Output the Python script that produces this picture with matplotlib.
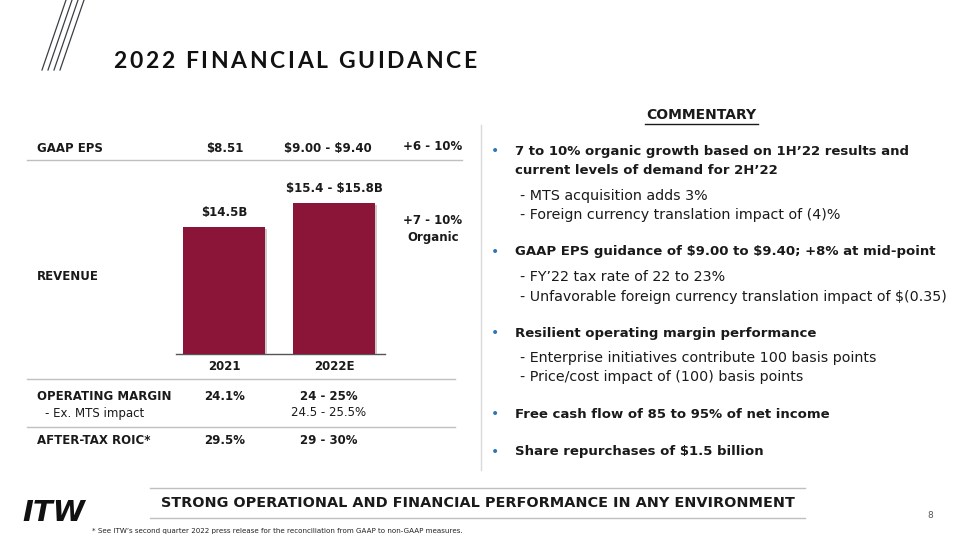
import matplotlib
matplotlib.use("Agg")
import matplotlib.pyplot as plt
from matplotlib.lines import Line2D
import matplotlib.patheffects as pe

plt.rcParams["text.parse_math"] = False

# ---------------- data ----------------
years = ["2021", "2022E"]
revenue = [14.5, 15.6]          # $B (2022E at midpoint of guidance)
revenue_labels = ["$14.5B", "$15.4 - $15.8B"]
revenue_growth = ["+7 - 10%", "Organic"]

row_names = ["GAAP EPS", "OPERATING MARGIN", "- Ex. MTS impact", "AFTER-TAX ROIC*"]
col_2021 = ["$8.51", "24.1%", "", "29.5%"]
col_2022 = ["$9.00 - $9.40", "24 - 25%", "24.5 - 25.5%", "29 - 30%"]
eps_growth = "+6 - 10%"

title = "2022 FINANCIAL GUIDANCE"
commentary = [
    ("b", ["7 to 10% organic growth based on 1H\u201922 results and",
           "current levels of demand for 2H\u201922"]),
    ("s", ["- MTS acquisition adds 3%", "- Foreign currency translation impact of (4)%"]),
    ("b", ["GAAP EPS guidance of $9.00 to $9.40; +8% at mid-point"]),
    ("s", ["- FY\u201922 tax rate of 22 to 23%",
           "- Unfavorable foreign currency translation impact of $(0.35)"]),
    ("b", ["Resilient operating margin performance"]),
    ("s", ["- Enterprise initiatives contribute 100 basis points",
           "- Price/cost impact of (100) basis points"]),
    ("b", ["Free cash flow of 85 to 95% of net income"]),
    ("b", ["Share repurchases of $1.5 billion"]),
]
footer = "STRONG OPERATIONAL AND FINANCIAL PERFORMANCE IN ANY ENVIRONMENT"
footnote = "* See ITW\u2019s second quarter 2022 press release for the reconciliation from GAAP to non-GAAP measures."

# ---------------- style ----------------
W, H = 960, 540
MAROON = "#8A1538"
GREY_LINE = "#BFBFBF"
TXT = "#1a1a1a"
BLUE = "#2E75B6"
FONT = "DejaVu Sans"

fig = plt.figure(figsize=(9.6, 5.4), dpi=100)
fig.patch.set_facecolor("white")


def T(x, y, s, size=9, weight="normal", ha="left", va="center", color=TXT, **kw):
    return fig.text(x / W, 1 - y / H, s, fontsize=size, fontweight=weight, ha=ha, va=va,
                    color=color, family=kw.pop("family", FONT), **kw)


def HL(x0, x1, y, color=GREY_LINE, lw=1.0):
    fig.add_artist(Line2D([x0 / W, x1 / W], [1 - y / H, 1 - y / H], color=color, lw=lw,
                          transform=fig.transFigure))


def VL(x, y0, y1, color="#D9D9D9", lw=1.0):
    fig.add_artist(Line2D([x / W, x / W], [1 - y0 / H, 1 - y1 / H], color=color, lw=lw,
                          transform=fig.transFigure))


# logo stripes top-left
for i in range(4):
    dx = i * 6
    fig.add_artist(Line2D([(42 + dx) / W, (66 + dx) / W], [1 - 70 / H, 1 - 0 / H],
                          color="#3a3f44", lw=0.9, transform=fig.transFigure))

# title with letter spacing (drawn character by character)
renderer = fig.canvas.get_renderer()
x = 113
for ch in title:
    t = T(x, 61, ch, size=16.5, weight="bold", family="Lato", color="#111111")
    w = t.get_window_extent(renderer).width
    x += w + 2.65

# ---------------- left table ----------------
T(37, 148, row_names[0], size=8.5, weight="bold")
T(225, 148, col_2021[0], size=8.5, weight="bold", ha="center")
T(328, 148, col_2022[0], size=8.5, weight="bold", ha="center")
T(433, 147, eps_growth, size=8.5, weight="bold", ha="center")
HL(27, 462, 160)

T(37, 277, "REVENUE", size=8.5, weight="bold")
T(433, 220, revenue_growth[0], size=8.5, weight="bold", ha="center")
T(433, 237, revenue_growth[1], size=8.5, weight="bold", ha="center")

HL(27, 455, 379)
T(37, 397, row_names[1], size=8.5, weight="bold")
T(225, 397, col_2021[1], size=8.5, weight="bold", ha="center")
T(329, 397, col_2022[1], size=8.5, weight="bold", ha="center")
T(45, 413, row_names[2], size=8.5)
T(329, 413, col_2022[2], size=8.5, ha="center")
HL(27, 455, 427)
T(37, 441, row_names[3], size=8.5, weight="bold")
T(225, 441, col_2021[3], size=8.5, weight="bold", ha="center")
T(329, 441, col_2022[3], size=8.5, weight="bold", ha="center")

# ---------------- revenue bar chart ----------------
ax_l, ax_r, ax_b, ax_t = 176, 385, 354, 190
ax = fig.add_axes([ax_l / W, 1 - ax_b / H, (ax_r - ax_l) / W, (ax_b - ax_t) / H])
xs = list(range(len(years)))
bars = ax.bar(xs, revenue, width=0.745, color=MAROON, zorder=3)
for b in bars:
    b.set_path_effects([pe.SimplePatchShadow(offset=(1.5, -1.5), shadow_rgbFace="#999999", alpha=0.5),
                        pe.Normal()])
ax.set_xlim(-0.44, 1.46)
ax.set_ylim(8.68, 8.68 + (ax_b - ax_t) / 21.82)
for s in ["top", "right", "left"]:
    ax.spines[s].set_visible(False)
ax.spines["bottom"].set_color("#555555")
ax.spines["bottom"].set_linewidth(1.0)
ax.set_yticks([])
ax.set_xticks(xs)
ax.set_xticklabels(years, fontsize=8.5, fontweight="bold", family=FONT, color=TXT)
ax.tick_params(axis="x", length=0, pad=4)
ax.patch.set_alpha(0)
for b, lab in zip(bars, revenue_labels):
    ax.annotate(lab, (b.get_x() + b.get_width() / 2, b.get_height()), xytext=(0, 6),
                textcoords="offset points", ha="center", va="bottom", fontsize=8.5,
                fontweight="bold", family=FONT, color=TXT)

# vertical separator
VL(481, 125, 470)

# ---------------- commentary ----------------
T(701, 115, "COMMENTARY", size=10, weight="bold", ha="center")
HL(645, 758, 124, color=TXT, lw=1.0)

ys = [[151, 171], [196, 215], [252], [277, 297], [333], [358, 377], [414], [452]]
for (kind, lines), yy in zip(commentary, ys):
    if kind == "b":
        T(495, yy[0], "\u2022", size=10, color=BLUE, ha="center")
        for ln, y in zip(lines, yy):
            T(515, y, ln, size=9.5, weight="bold")
    else:
        for ln, y in zip(lines, yy):
            T(520, y, ln, size=10.3)

# ---------------- footer ----------------
HL(150, 805, 488)
HL(150, 805, 518)
T(478, 503, footer, size=10.4, weight="bold", ha="center")
T(930, 515, "8", size=6.5, ha="center", color="#555555")
T(22, 513, "ITW", size=21, weight="heavy", style="italic", family="DejaVu Sans", color="#111111")
T(92, 531, footnote, size=5.1, family="Liberation Sans Narrow", color="#222222")

fig.savefig("out.png", dpi=100, facecolor="white")
